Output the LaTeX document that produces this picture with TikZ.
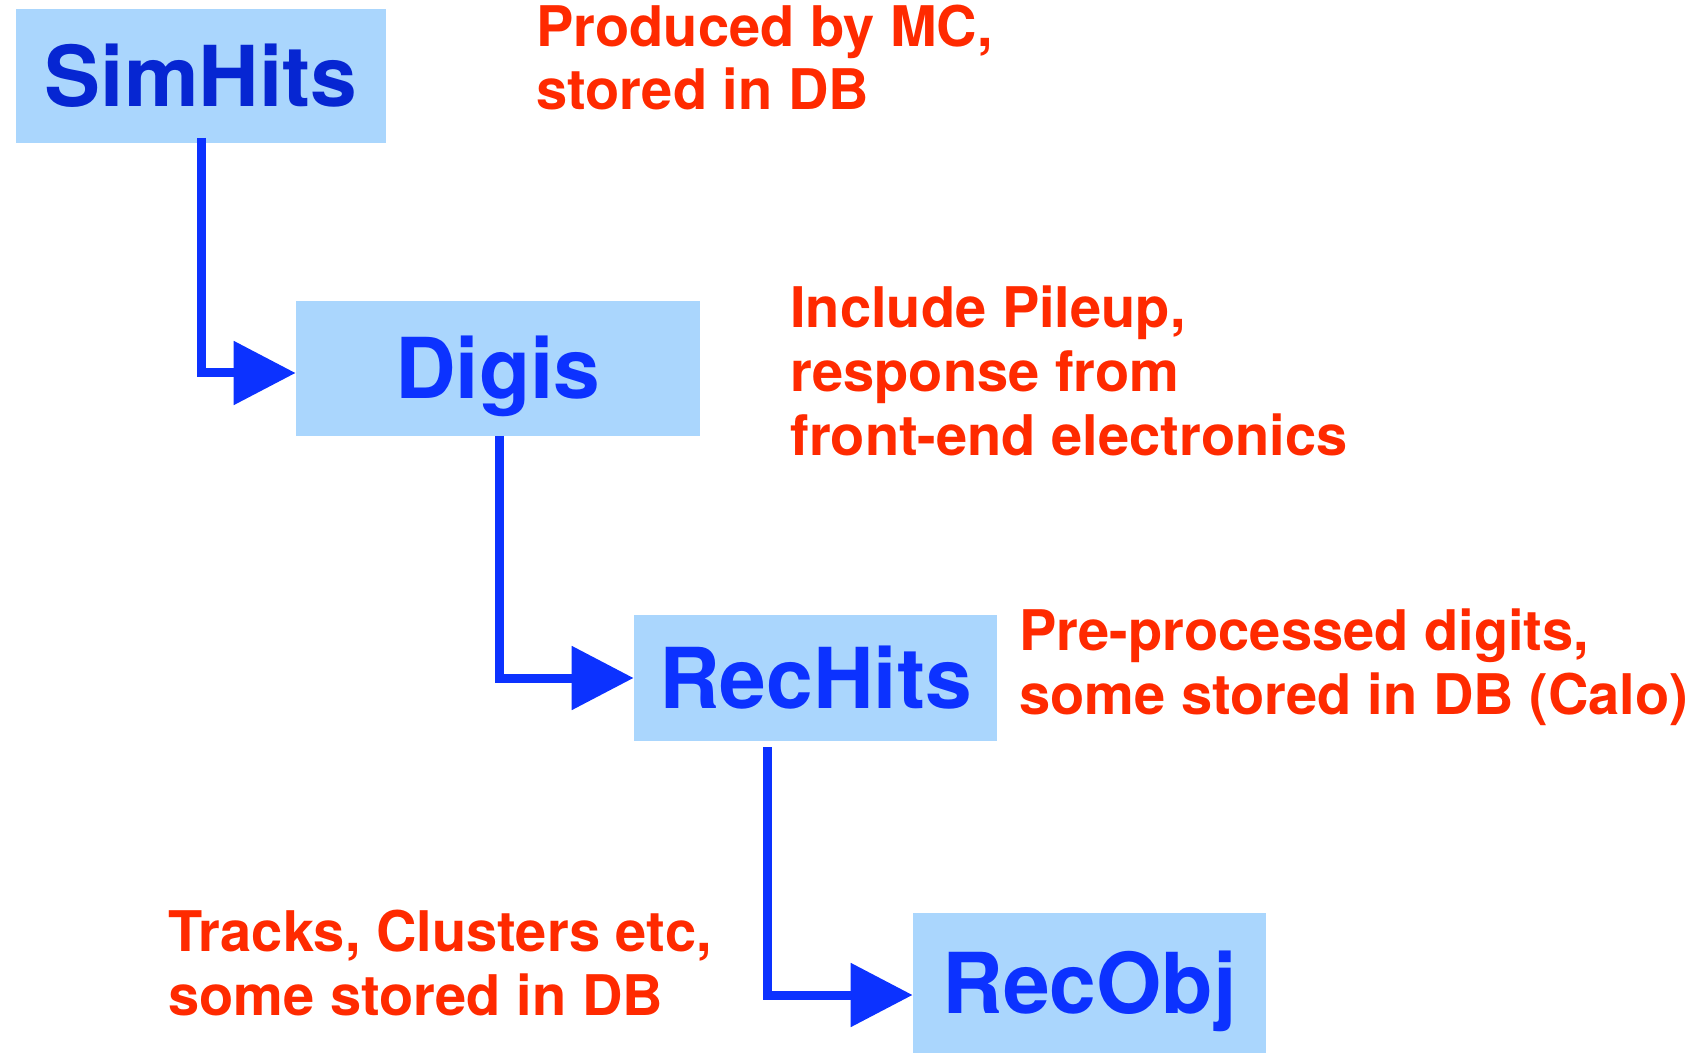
\documentclass[tikz,border=0pt]{standalone}
\usepackage{fontspec}
\setmainfont{TeX Gyre Heros}
\usetikzlibrary{arrows.meta}
\definecolor{boxfill}{RGB}{170,214,253}
\definecolor{stageblue}{RGB}{12,50,255}
\definecolor{darkstage}{RGB}{6,38,210}
\definecolor{flowblue}{RGB}{12,50,255}
\definecolor{notered}{RGB}{255,42,0}
\begin{document}
\begin{tikzpicture}[x=0.5pt,y=-0.5pt,
  stage/.style={fill=boxfill, inner sep=0pt, text=stageblue,
    font=\fontsize{42}{46}\selectfont\bfseries,
    text height=30.5pt, text depth=0pt},
  note/.style={anchor=base west, inner sep=0pt, text=notered,
    font=\fontsize{28}{32}\selectfont\bfseries},
  flow/.style={draw=flowblue, line width=4.5pt, line join=miter,
    -{Triangle[length=31pt,width=31pt]}}
]
\useasboundingbox (0,0) rectangle (1702,1053);

% processing stages
\node[stage, text=darkstage, minimum width=185pt, minimum height=67pt] (sim) at (201,76) {SimHits};
\node[stage, minimum width=202pt, minimum height=67.5pt] (digis) at (498,368.5) {Digis};
\node[stage, minimum width=181.5pt, minimum height=63pt] (rechits) at (815.5,678) {RecHits};
\node[stage, minimum width=176.5pt, minimum height=70pt] (recobj) at (1089.5,983) {RecObj};

% connector start points
\coordinate (s1) at (201,138);
\coordinate (s2) at (499,436);
\coordinate (s3) at (767,747);

\draw[flow] (s1) |- ([yshift=-2.25pt]digis.west);
\draw[flow] (s2) |- (rechits.west);
\draw[flow] (s3) |- ([yshift=-6pt]recobj.west);

% annotations
\node[note] (n1a) at (536,47) {Produced by MC,};
\node[note] (n1b) at (536,110) {stored in DB};

\node[note] (n2a) at (790,328) {Include Pileup,};
\node[note] (n2b) at (790,392) {response from};
\node[note] (n2c) at (790,456) {front-end electronics};

\node[note] (n3a) at (1019,650) {Pre-processed digits,};
\node[note] (n3b) at (1019,714) {some stored in DB (Calo)};

\node[note] (n4a) at (168,951) {Tracks, Clusters etc,};
\node[note] (n4b) at (168,1015) {some stored in DB};
\end{tikzpicture}
\end{document}
